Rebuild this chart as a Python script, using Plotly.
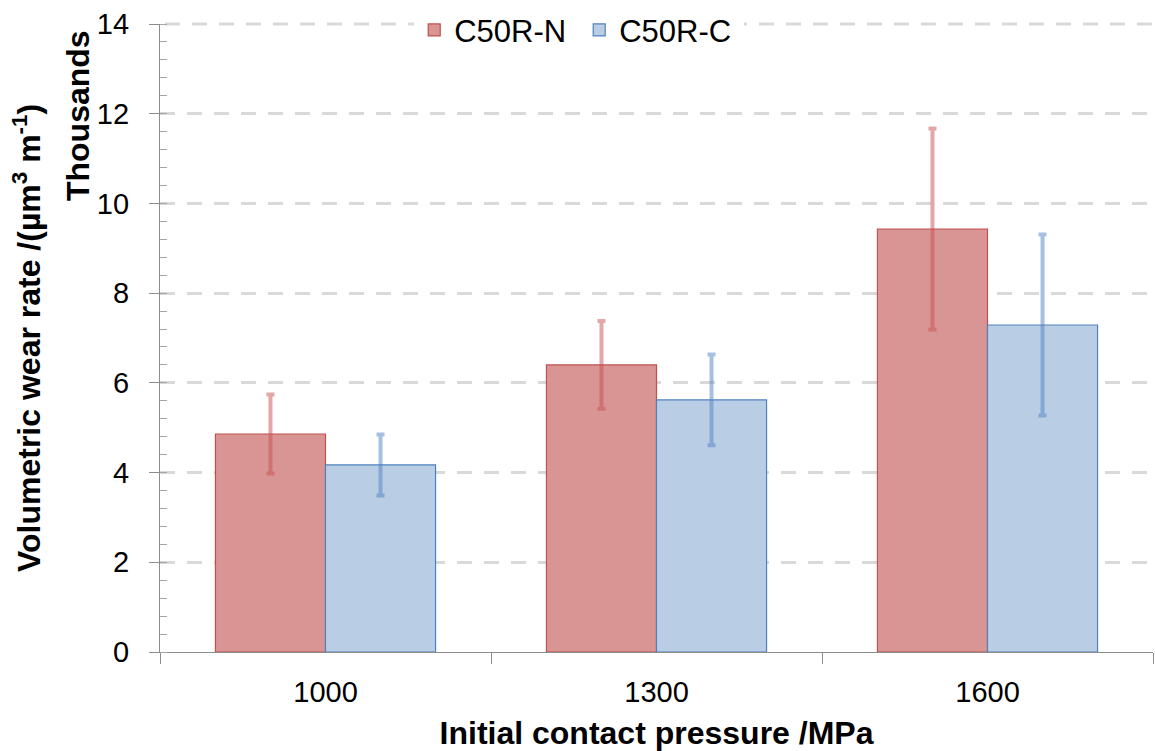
import plotly.graph_objects as go

# Wear-rate data (values in thousands of µm³/m)
pressures = ["1000", "1300", "1600"]
series_names = ["C50R-N", "C50R-C"]
wear_n = [4.86, 6.40, 9.43]
err_n = [0.88, 0.98, 2.24]
wear_c = [4.17, 5.62, 7.29]
err_c = [0.68, 1.01, 2.02]
y_ticks = [0, 2, 4, 6, 8, 10, 12, 14]

FONT = "Liberation Sans, Arial, sans-serif"
GRID = dict(color="#d9d9d9", width=3, dash="15px,12px")

fig = go.Figure()
fig.add_trace(go.Bar(
    name=series_names[0], x=pressures, y=wear_n,
    marker=dict(color="#d99594", line=dict(color="#c0504d", width=1.2)),
    error_y=dict(type="data", array=err_n, visible=True,
                 color="rgba(200,80,80,0.5)", thickness=4, width=4),
))
fig.add_trace(go.Bar(
    name=series_names[1], x=pressures, y=wear_c,
    marker=dict(color="#b9cde5", line=dict(color="#4f81bd", width=1.2)),
    error_y=dict(type="data", array=err_c, visible=True,
                 color="rgba(80,130,195,0.5)", thickness=4, width=4),
))

# top gridline sits on the plot edge, where plotly skips grid lines
fig.add_shape(type="line", xref="paper", yref="paper", x0=0.005, x1=1,
              y0=1, y1=1, line=GRID, layer="below")

fig.update_layout(
    width=1155, height=751,
    margin=dict(l=160, r=2, t=24, b=99, autoexpand=False),
    paper_bgcolor="white", plot_bgcolor="white",
    barmode="group", bargap=0.335, bargroupgap=0,
    font=dict(family=FONT, color="black", size=29),
    showlegend=True,
    legend=dict(orientation="h", x=0.256, y=0.99, xanchor="left", yanchor="middle",
                bgcolor="white", font=dict(size=31), itemwidth=30,
                entrywidth=120, entrywidthmode="pixels",
                traceorder="normal"),
    xaxis=dict(
        type="category", showline=True, linecolor="#8c8c8c", linewidth=1.3,
        ticks="outside", tickson="boundaries", ticklen=11, tickcolor="#8c8c8c",
        tickfont=dict(size=29), ticklabelstandoff=14, showgrid=False,
        title=dict(text="<b>Initial contact pressure /MPa</b>",
                   font=dict(size=32), standoff=16),
    ),
    yaxis=dict(
        range=[0, 14], tickvals=y_ticks, showline=True, linecolor="#8c8c8c",
        linewidth=1.3, ticks="outside", ticklen=10, tickcolor="#8c8c8c",
        tickfont=dict(size=29), ticklabelstandoff=14, zeroline=False,
        showgrid=True, gridcolor=GRID["color"], gridwidth=GRID["width"],
        griddash=GRID["dash"],
        minor=dict(dtick=0.4, ticks="inside", ticklen=7, tickcolor="#a6a6a6",
                   showgrid=False),
    ),
    annotations=[
        dict(text="<b>Volumetric wear rate /(µm<sup>3</sup> m<sup>-1</sup>)</b>",
             xref="paper", yref="paper", x=-0.134, y=0.5, textangle=-90,
             showarrow=False, font=dict(size=32), xanchor="center", yanchor="middle"),
        dict(text="<b>Thousands</b>", xref="paper", yref="paper",
             x=-0.0826, y=0.855, textangle=-90, showarrow=False,
             font=dict(size=32), xanchor="center", yanchor="middle"),
    ],
)

fig.write_html("out.html")
